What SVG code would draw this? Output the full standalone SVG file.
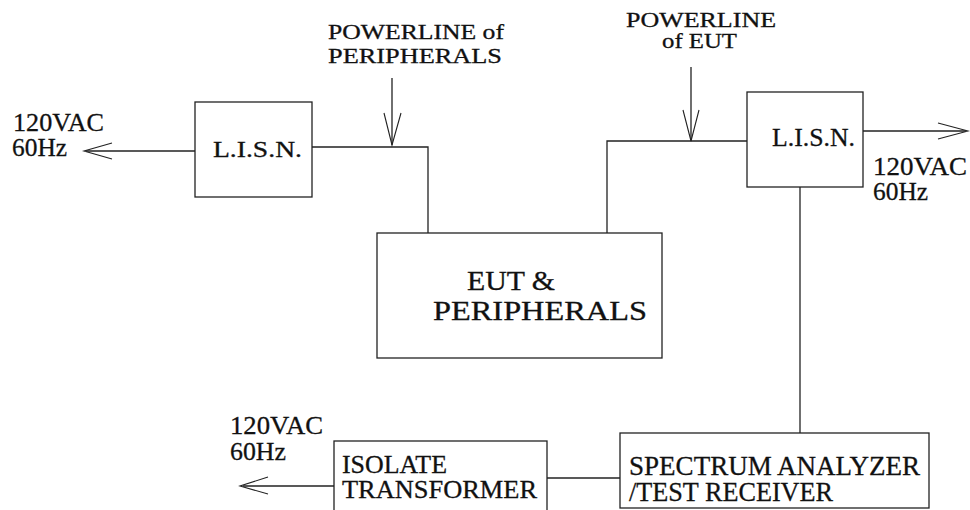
<svg xmlns="http://www.w3.org/2000/svg" width="970" height="510" viewBox="0 0 970 510">
<defs>
<style>
.box{fill:none;stroke:#222;stroke-width:1.3}
.ln{fill:none;stroke:#222;stroke-width:1.3}
.ah{fill:none;stroke:#222;stroke-width:1.1}
.t{font-family:'Liberation Serif','Times New Roman','DejaVu Serif',serif;fill:#111;stroke:#111;stroke-width:0.3}
</style>
</defs>
<rect width="970" height="510" fill="#fff"/>

<g id="lisn-left" class="t">
<rect class="box" x="195" y="102" width="117" height="95"/>
<text x="213" y="157" font-size="24" textLength="89" lengthAdjust="spacingAndGlyphs">L.I.S.N.</text>
</g>

<g id="lisn-right" class="t">
<rect class="box" x="747" y="92" width="116" height="95"/>
<text x="772" y="146" font-size="26" textLength="83" lengthAdjust="spacingAndGlyphs">L.I.S.N.</text>
</g>

<g id="eut" class="t">
<rect class="box" x="377" y="233" width="285" height="125"/>
<text x="467" y="290" font-size="27" textLength="88" lengthAdjust="spacingAndGlyphs">EUT &amp;</text>
<text x="433" y="320" font-size="27" textLength="214" lengthAdjust="spacingAndGlyphs">PERIPHERALS</text>
</g>

<g id="isolate" class="t">
<rect class="box" x="334" y="441" width="213" height="75"/>
<text x="342" y="473" font-size="25" textLength="105" lengthAdjust="spacingAndGlyphs">ISOLATE</text>
<text x="342" y="498" font-size="25" textLength="195" lengthAdjust="spacingAndGlyphs">TRANSFORMER</text>
</g>

<g id="spectrum" class="t">
<rect class="box" x="620" y="433" width="309" height="75"/>
<text x="629" y="475" font-size="28" textLength="291" lengthAdjust="spacingAndGlyphs">SPECTRUM ANALYZER</text>
<text x="629" y="501" font-size="28" textLength="204" lengthAdjust="spacingAndGlyphs">/TEST RECEIVER</text>
</g>

<g id="label-left-power" class="t">
<text x="13" y="131" font-size="26" textLength="91" lengthAdjust="spacingAndGlyphs">120VAC</text>
<text x="12" y="156" font-size="26" textLength="55" lengthAdjust="spacingAndGlyphs">60Hz</text>
</g>

<g id="label-right-power" class="t">
<text x="873" y="175" font-size="26" textLength="94" lengthAdjust="spacingAndGlyphs">120VAC</text>
<text x="873" y="200" font-size="26" textLength="55" lengthAdjust="spacingAndGlyphs">60Hz</text>
</g>

<g id="label-bottom-power" class="t">
<text x="230" y="434" font-size="26" textLength="93" lengthAdjust="spacingAndGlyphs">120VAC</text>
<text x="230" y="460" font-size="26" textLength="56" lengthAdjust="spacingAndGlyphs">60Hz</text>
</g>

<g id="label-powerline-peripherals" class="t">
<text x="328" y="39" font-size="21" textLength="176" lengthAdjust="spacingAndGlyphs">POWERLINE of</text>
<text x="328" y="63" font-size="21" textLength="174" lengthAdjust="spacingAndGlyphs">PERIPHERALS</text>
</g>

<g id="label-powerline-eut" class="t">
<text x="626" y="27" font-size="20" textLength="150" lengthAdjust="spacingAndGlyphs">POWERLINE</text>
<text x="662" y="48" font-size="20" textLength="75" lengthAdjust="spacingAndGlyphs">of EUT</text>
</g>

<g id="connectors">
<path class="ln" d="M195,151 H86"/>
<path class="ah" d="M112,143 L84,151 L112,159"/>
<path class="ln" d="M312,147 H428 V233"/>
<path class="ln" d="M392,78 V145"/>
<path class="ah" d="M384,113 L392,145 L401,113"/>
<path class="ln" d="M747,141 H607 V233"/>
<path class="ln" d="M691,67 V141"/>
<path class="ah" d="M683,110 L691,141 L699,110"/>
<path class="ln" d="M863,131 H966"/>
<path class="ah" d="M938,123 L968,131 L938,139"/>
<path class="ln" d="M800,187 V433"/>
<path class="ln" d="M547,478 H620"/>
<path class="ln" d="M334,486 H243"/>
<path class="ah" d="M268,477 L240,486 L268,494"/>
</g>
</svg>
